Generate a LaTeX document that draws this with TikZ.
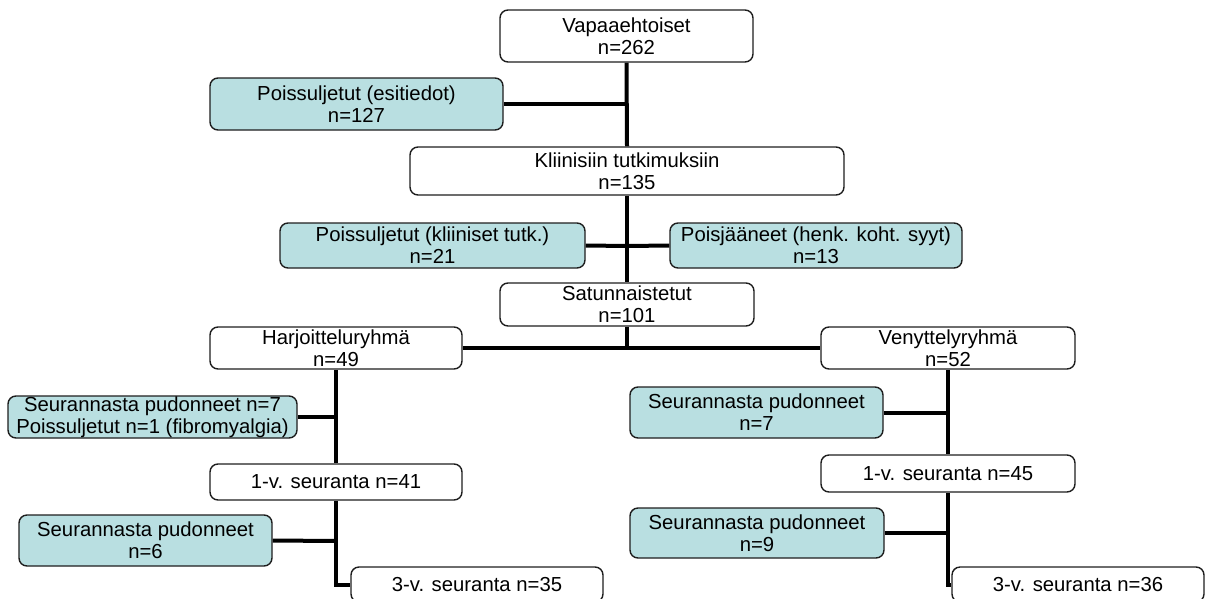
\documentclass[tikz,border=0pt]{standalone}
\usepackage{fontspec}
\setmainfont{Liberation Sans}
\usetikzlibrary{backgrounds}
\definecolor{boxteal}{RGB}{185,223,225}
\definecolor{boxline}{RGB}{30,30,30}
\tikzset{
  wbox/.style={draw=boxline, line width=1.4pt, rounded corners=8pt, fill=white,
    align=center, inner sep=0pt, font=\fontsize{20.3}{22}\selectfont},
  tbox/.style={wbox, fill=boxteal},
  conn/.style={draw=black, line width=4pt}
}
\begin{document}
\begin{tikzpicture}[x=1pt,y=-1pt]
\useasboundingbox (0,0) rectangle (1205,598);
\clip (0,0) rectangle (1205,598);
% top
\node[wbox, minimum width=253pt, minimum height=52pt] (vap) at (626.5,36) {Vapaaehtoiset\\n=262};
\node[tbox, minimum width=293pt, minimum height=52pt] (pe) at (356.5,104) {Poissuljetut (esitiedot)\\n=127};
\node[wbox, minimum width=434pt, minimum height=48pt] (kl) at (627,171) {Kliinisiin tutkimuksiin\\n=135};
\node[tbox, minimum width=305pt, minimum height=45pt] (pk) at (432.5,245.5) {Poissuljetut (kliiniset tutk.)\\n=21};
\node[tbox, minimum width=292pt, minimum height=45pt] (pj) at (816,245.5) {Poisjääneet (henk. koht. syyt)\\n=13};
\node[wbox, minimum width=254pt, minimum height=43pt] (sat) at (627,304.5) {Satunnaistetut\\n=101};
% groups
\node[wbox, minimum width=252pt, minimum height=42pt] (har) at (336,348) {Harjoitteluryhmä\\n=49};
\node[wbox, minimum width=254pt, minimum height=42pt] (ven) at (948,348) {Venyttelyryhmä\\n=52};
% left column
\node[tbox, minimum width=289pt, minimum height=42pt] (sl1) at (152.5,417) {Seurannasta pudonneet n=7\\Poissuljetut n=1 (fibromyalgia)};
\node[wbox, minimum width=252pt, minimum height=36pt] (y1l) at (336,482) {1-v. seuranta n=41};
\node[tbox, minimum width=253pt, minimum height=51pt] (sl2) at (145.5,540.5) {Seurannasta pudonneet\\n=6};
\node[wbox, minimum width=252pt, minimum height=35pt] (y3l) at (477,584.5) {3-v. seuranta n=35};
% right column
\node[tbox, minimum width=253pt, minimum height=51pt] (sr1) at (756.5,412.5) {Seurannasta pudonneet\\n=7};
\node[wbox, minimum width=254pt, minimum height=37pt] (y1r) at (948,473.5) {1-v. seuranta n=45};
\node[tbox, minimum width=254pt, minimum height=50pt] (sr2) at (757,533) {Seurannasta pudonneet\\n=9};
\node[wbox, minimum width=252pt, minimum height=35pt] (y3r) at (1078,584.5) {3-v. seuranta n=36};
% junction coordinates
\coordinate (j1) at (627,104);
\coordinate (j2) at (627,246);
\coordinate (j3) at (627,348);
\coordinate (jl1) at (336,417);
\coordinate (jl2) at (336,541);
\coordinate (jl3) at (336,584.5);
\coordinate (jr1) at (948,412.5);
\coordinate (jr2) at (948,533);
\coordinate (jr3) at (948,584.5);
\begin{scope}[on background layer]
\draw[conn] (vap.south) -- (kl.north);
\draw[conn] (pe.east) -- (j1);
\draw[conn] (kl.south) -- (sat.north);
\draw[conn] (pk.east) -- (j2);
\draw[conn] (pj.west) -- (j2);
\draw[conn] (sat.south) -- (j3);
\draw[conn] (har.east) -- (ven.west);
\draw[conn] (har.south) -- (y1l.north);
\draw[conn] (sl1.east) -- (jl1);
\draw[conn] (y1l.south) -- (jl3) -- (y3l.west);
\draw[conn] (sl2.east) -- (jl2);
\draw[conn] (ven.south) -- (y1r.north);
\draw[conn] (sr1.east) -- (jr1);
\draw[conn] (y1r.south) -- (jr3) -- (y3r.west);
\draw[conn] (sr2.east) -- (jr2);
\end{scope}
\end{tikzpicture}
\end{document}
